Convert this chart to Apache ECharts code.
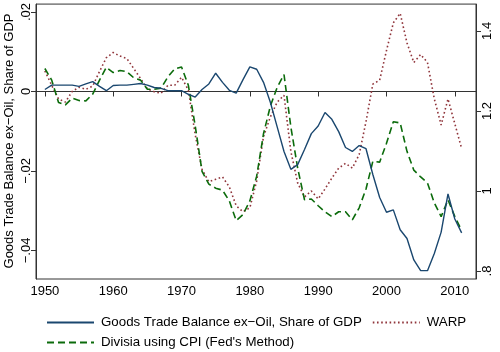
<!DOCTYPE html>
<html><head><meta charset="utf-8">
<script src="https://cdn.jsdelivr.net/npm/echarts@6/dist/echarts.min.js"></script>
<style>html,body{margin:0;padding:0;background:#fff}#c{width:500px;height:352px}</style>
</head><body><div id="c"></div>
<script>
const years = [1950,1951,1952,1953,1954,1955,1956,1957,1958,1959,1960,1961,1962,1963,1964,1965,1966,1967,1968,1969,1970,1971,1972,1973,1974,1975,1976,1977,1978,1979,1980,1981,1982,1983,1984,1985,1986,1987,1988,1989,1990,1991,1992,1993,1994,1995,1996,1997,1998,1999,2000,2001,2002,2003,2004,2005,2006,2007,2008,2009,2010,2011];
const tradeBalance = [0.0005,0.0016,0.0016,0.0016,0.0016,0.0013,0.0019,0.0025,0.0013,0.0002,0.0015,0.0016,0.0016,0.0018,0.002,0.0016,0.001,0.0008,0.0002,0.0002,0.0002,-0.0007,-0.0014,0.0005,0.0019,0.0046,0.0023,0.0003,-0.0004,0.003,0.0062,0.0056,0.0023,-0.0027,-0.0089,-0.0151,-0.0196,-0.0184,-0.0146,-0.0106,-0.0087,-0.0053,-0.007,-0.0101,-0.0141,-0.0151,-0.0136,-0.0144,-0.0209,-0.0267,-0.0304,-0.0298,-0.0348,-0.037,-0.0424,-0.0451,-0.0451,-0.0408,-0.0354,-0.0258,-0.0321,-0.0356];
const warp = [1.300,1.264,1.230,1.222,1.249,1.259,1.254,1.262,1.299,1.333,1.346,1.337,1.331,1.306,1.281,1.255,1.248,1.244,1.264,1.264,1.284,1.252,1.141,1.054,1.023,1.029,1.035,1.010,0.963,0.948,0.958,1.025,1.136,1.185,1.222,1.239,1.099,1.020,0.985,1.000,0.980,1.005,1.032,1.057,1.069,1.057,1.091,1.173,1.267,1.277,1.351,1.420,1.444,1.370,1.321,1.341,1.321,1.230,1.165,1.230,1.168,1.106];
const divisia = [1.306,1.277,1.221,1.215,1.232,1.226,1.225,1.242,1.277,1.309,1.296,1.301,1.298,1.283,1.277,1.254,1.254,1.257,1.285,1.305,1.310,1.264,1.163,1.049,1.017,1.007,1.002,0.975,0.926,0.941,0.975,1.037,1.143,1.212,1.259,1.291,1.160,1.057,0.978,0.980,0.963,0.948,0.936,0.948,0.948,0.928,0.958,1.005,1.074,1.072,1.119,1.173,1.170,1.099,1.052,1.035,1.020,0.970,0.936,0.978,0.936,0.901];
const xTicks = [1950,1960,1970,1980,1990,2000,2010];
const leftTicks = [-0.04,-0.02,0,0.02];
const leftTickLabels = ['−.04','−.02','0','.02'];
const rightTicks = [0.8,1,1.2,1.4];
const rightTickLabels = ['.8','1','1.2','1.4'];
const nameTB = 'Goods Trade Balance ex−Oil, Share of GDP';
const nameWARP = 'WARP';
const nameDiv = "Divisia using CPI (Fed's Method)";
const yTitle = 'Goods Trade Balance ex−Oil, Share of GDP';

const FONT = 'Liberation Sans, Arial, Helvetica, sans-serif';
const pair = (arr) => years.map((y,i)=>[y,arr[i]]);
const chart = echarts.init(document.getElementById('c'), null, {renderer:'canvas'});
const lblStyle = {color:'#000', fontSize:13, fontFamily:FONT};
const legendCommon = {itemWidth:47,itemHeight:10,itemGap:10,padding:0,
  itemStyle:{opacity:0,borderWidth:0},
  textStyle:{color:'#000',fontSize:13.3,fontFamily:FONT,padding:[0,0,0,2]}};
chart.setOption({
  animation:false,
  backgroundColor:'#fff',
  grid:{left:36,right:24,top:1,bottom:73,show:true,borderColor:'#333',borderWidth:1,backgroundColor:'transparent'},
  xAxis:{type:'value',min:1948.7,max:2013.1,
    axisLine:{show:true,lineStyle:{color:'#333',width:1}},
    axisTick:{show:true,length:5,lineStyle:{color:'#333'},customValues:xTicks},
    axisLabel:Object.assign({customValues:xTicks,margin:6,formatter:v=>String(v)},lblStyle),
    splitLine:{show:false}},
  yAxis:[
    {type:'value',min:-0.0472,max:0.022,position:'left',
      axisLine:{show:true,lineStyle:{color:'#333',width:1}},
      axisTick:{show:true,length:5,lineStyle:{color:'#333'},customValues:leftTicks},
      axisLabel:Object.assign({customValues:leftTicks,rotate:90,margin:3,
        formatter:v=>{const i=leftTicks.findIndex(t=>Math.abs(t-v)<1e-9);return i>=0?leftTickLabels[i]:'';}},lblStyle),
      splitLine:{show:false}},
    {type:'value',min:0.78,max:1.467,position:'right',
      axisLine:{show:true,lineStyle:{color:'#333',width:1}},
      axisTick:{show:true,length:5,lineStyle:{color:'#333'},customValues:rightTicks},
      axisLabel:Object.assign({customValues:rightTicks,rotate:90,margin:5,
        formatter:v=>{const i=rightTicks.findIndex(t=>Math.abs(t-v)<1e-9);return i>=0?rightTickLabels[i]:'';}},lblStyle),
      splitLine:{show:false}}
  ],
  legend:[
    Object.assign({data:[nameTB,nameWARP],left:46,top:316},legendCommon),
    Object.assign({data:[nameDiv],left:46,top:336},legendCommon)
  ],
  graphic:[{type:'text',x:3,y:141,rotation:Math.PI/2,
    style:{text:yTitle,fill:'#000',font:'13px '+FONT,textAlign:'center',textVerticalAlign:'top'}}],
  series:[
    {name:nameTB,type:'line',yAxisIndex:0,data:pair(tradeBalance),symbol:'none',
      lineStyle:{color:'#1a476f',width:1.4,type:'solid'},itemStyle:{color:'#1a476f'},z:3},
    {name:nameWARP,type:'line',yAxisIndex:1,data:pair(warp),symbol:'none',
      lineStyle:{color:'#90353b',width:1.6,type:[1.6,2.6]},itemStyle:{color:'#90353b'},z:2},
    {name:nameDiv,type:'line',yAxisIndex:1,data:pair(divisia),symbol:'none',
      lineStyle:{color:'#0b6b0b',width:1.6,type:[7,4]},itemStyle:{color:'#0b6b0b'},z:2}
  ]
});
</script></body></html>
